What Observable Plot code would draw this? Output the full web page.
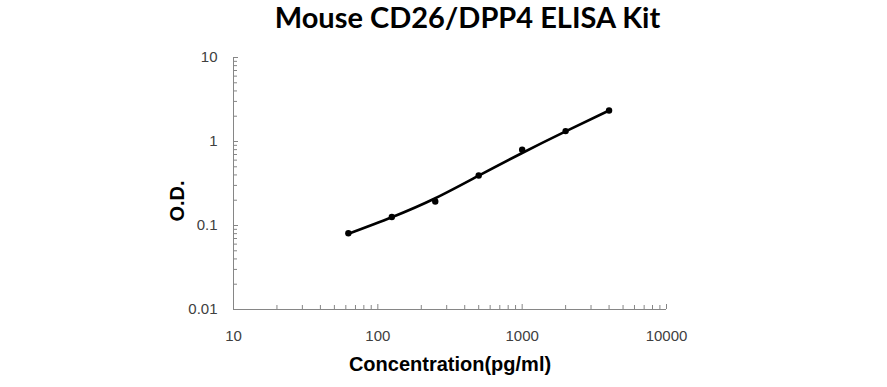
<!DOCTYPE html>
<html>
<head>
<meta charset="utf-8">
<script src="https://cdn.jsdelivr.net/npm/d3@7"></script>
<script src="https://cdn.jsdelivr.net/npm/@observablehq/plot@0.6"></script>
<style>
  body { margin: 0; background: #fff; }
  #title { width: 887px; height: 36px; box-sizing: border-box; padding-left: 48px; text-align: center; overflow: hidden;
    font-family: Lato, "Open Sans", sans-serif; font-weight: bold; font-size: 29px; line-height: 33px; color: #000; }
  #chart svg { display: block; }
</style>
</head>
<body>
<div id="title">Mouse CD26/DPP4 ELISA Kit</div>
<div id="chart"></div>
<script>
const concentration = [62.5, 125, 250, 500, 1000, 2000, 4000];
const od = [0.081, 0.126, 0.193, 0.394, 0.796, 1.33, 2.34];
const fitOd = [0.0797, 0.1254, 0.211, 0.392, 0.730, 1.32, 2.34];
const xTicks = [10, 100, 1000, 10000];
const xTickLabels = ["10", "100", "1000", "10000"];
const yTicks = [0.01, 0.1, 1, 10];
const yTickLabels = ["0.01", "0.1", "1", "10"];
const xMinor = [20,30,40,50,60,70,80,90,200,300,400,500,600,700,800,900,2000,3000,4000,5000,6000,7000,8000,9000];
const yMinor = [0.02,0.03,0.04,0.05,0.06,0.07,0.08,0.09,0.2,0.3,0.4,0.5,0.6,0.7,0.8,0.9,2,3,4,5,6,7,8,9];

const points = concentration.map((c, i) => ({c, od: od[i]}));
const fit = concentration.map((c, i) => ({c, od: fitOd[i]}));

const W = 887, H = 351, mL = 233, mR = 221, mT = 21, mB = 78;
const axisColor = "#868686";
const plotW = W - mL - mR, plotH = H - mT - mB;

const chart = Plot.plot({
  width: W, height: H,
  marginLeft: mL, marginRight: mR, marginTop: mT, marginBottom: mB,
  style: {fontFamily: "'Liberation Sans', Arial, sans-serif", fontSize: "15px", background: "#fff"},
  x: {type: "log", domain: [10, 10000]},
  y: {type: "log", domain: [0.01, 10]},
  marks: [
    Plot.axisX(xTicks, {tickSize: 0, tickPadding: 21, tickFormat: d => xTickLabels[xTicks.indexOf(d)], fill: "#404040", label: null}),
    Plot.axisY(yTicks, {tickSize: 0, tickPadding: 16, tickFormat: d => yTickLabels[yTicks.indexOf(d)], fill: "#404040", label: null}),
    Plot.tickX(xMinor, {x: d => d, insetTop: plotH - 4, stroke: axisColor}),
    Plot.tickX(xTicks, {x: d => d, insetTop: plotH - 5, stroke: axisColor}),
    Plot.tickY(yMinor, {y: d => d, insetRight: plotW - 4, stroke: axisColor}),
    Plot.tickY(yTicks, {y: d => d, insetRight: plotW - 5, stroke: axisColor}),
    Plot.ruleY([0.01], {stroke: axisColor}),
    Plot.ruleX([10], {stroke: axisColor}),
    Plot.line(fit, {x: "c", y: "od", curve: "natural", stroke: "#000", strokeWidth: 2.6}),
    Plot.dot(points, {x: "c", y: "od", r: 3.2, fill: "#000", stroke: "none"}),
    Plot.text(["Concentration(pg/ml)"], {frameAnchor: "bottom", dy: 61, fontWeight: "bold", fontSize: 20, fill: "#000"}),
    Plot.text(["O.D."], {frameAnchor: "left", dx: -56, dy: 38, rotate: -90, fontWeight: "bold", fontSize: 20, fill: "#000"})
  ]
});
document.getElementById("chart").appendChild(chart);
</script>
</body>
</html>
